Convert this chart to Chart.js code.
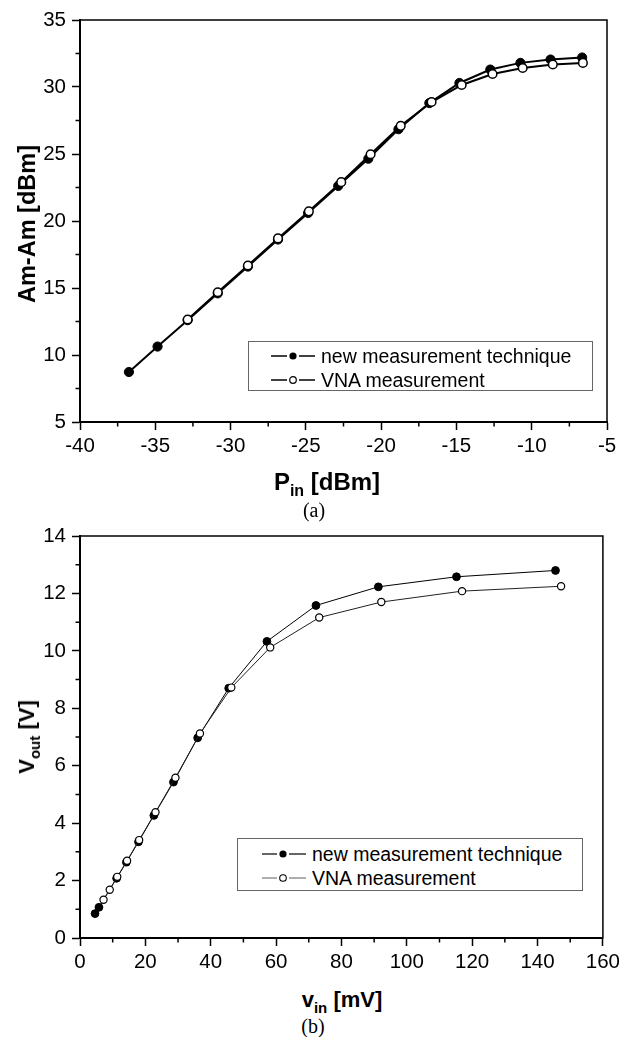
<!DOCTYPE html>
<html>
<head>
<meta charset="utf-8">
<script src="https://cdn.jsdelivr.net/npm/chart.js@4.4.0/dist/chart.umd.min.js"></script>
<style>
    body { margin: 0; background: #fff; }
    #page { position: relative; width: 624px; height: 1037px; background: #fff; font-family: "Liberation Sans", Arial, sans-serif; color: #000; }
    .plot { position: absolute; left: 0; width: 624px; height: 470px; }
    .title { position: absolute; font-weight: bold; font-size: 22px; line-height: 22px; white-space: nowrap; }
    .title sub { font-size: 15px; vertical-align: -6px; line-height: 0; }
    .ytitle { transform: translate(-50%, -50%) rotate(-90deg); }
    .xtitle { transform: translateX(-50%); }
    .caption { position: absolute; font-family: "Liberation Serif", "Times New Roman", serif; font-size: 20px; line-height: 20px; transform: translateX(-50%); }
    .legend { position: absolute; border: 1.5px solid #666; background: #fff; box-sizing: border-box; }
    .legend .row { position: absolute; left: 0; height: 24px; display: flex; align-items: center; font-size: 19.5px; white-space: nowrap; }
    .legend svg { margin-left: 22px; margin-right: 6px; }
</style>
</head>
<body>
<div id="page">
    <div class="plot" style="top:0"><canvas id="chart-a"></canvas></div>
    <div class="plot" style="top:516px"><canvas id="chart-b"></canvas></div>

    <!-- (a) texts -->
    <div class="title ytitle" style="left:27px; top:224px; font-size:23.5px">Am-Am [dBm]</div>
    <div class="title xtitle" style="left:327px; top:470px; font-size:24px; line-height:24px">P<sub style="font-size:16px">in</sub> [dBm]</div>
    <div class="caption" style="left:314px; top:500px">(a)</div>
    <div class="legend" style="left:248px; top:341px; width:345px; height:50px">
        <div class="row" style="top:2px"><svg width="44" height="10"><line x1="0" y1="5" x2="16" y2="5" stroke="#000" stroke-width="1.5"/><line x1="28" y1="5" x2="44" y2="5" stroke="#000" stroke-width="1.5"/><circle cx="22" cy="5" r="3.6" fill="#000"/></svg>new measurement technique</div>
        <div class="row" style="top:26px"><svg width="44" height="10"><line x1="0" y1="5" x2="16" y2="5" stroke="#000" stroke-width="1.5"/><line x1="28" y1="5" x2="44" y2="5" stroke="#000" stroke-width="1.5"/><circle cx="22" cy="5" r="3.3" fill="#fff" stroke="#000" stroke-width="1.2"/></svg>VNA measurement</div>
    </div>

    <!-- (b) texts -->
    <div class="title ytitle" style="left:27px; top:737px">V<sub>out</sub> [V]</div>
    <div class="title xtitle" style="left:342px; top:989px">v<sub>in</sub> [mV]</div>
    <div class="caption" style="left:313px; top:1016px">(b)</div>
    <div class="legend" style="left:237px; top:838px; width:346px; height:53px">
        <div class="row" style="top:3px"><svg width="44" height="10" style="margin-left:24px"><line x1="0" y1="5" x2="15" y2="5" stroke="#000" stroke-width="1.2"/><line x1="27" y1="5" x2="44" y2="5" stroke="#000" stroke-width="1.2"/><circle cx="21" cy="5" r="3.6" fill="#000"/></svg>new measurement technique</div>
        <div class="row" style="top:27px"><svg width="44" height="10" style="margin-left:24px"><line x1="0" y1="5" x2="15" y2="5" stroke="#777" stroke-width="1.2"/><line x1="27" y1="5" x2="44" y2="5" stroke="#777" stroke-width="1.2"/><circle cx="21" cy="5" r="3.3" fill="#fff" stroke="#000" stroke-width="1.1"/></svg>VNA measurement</div>
    </div>
</div>

<script>
// --- (a) Am-Am vs input power ---
const pinNew = [-36.75, -34.85, -32.85, -30.85, -28.85, -26.85, -24.85, -22.85, -20.85, -18.85, -16.8, -14.8, -12.75, -10.75, -8.75, -6.65];
const amNew = [8.73, 10.63, 12.6, 14.6, 16.6, 18.62, 20.6, 22.62, 24.65, 26.85, 28.8, 30.3, 31.3, 31.8, 32.05, 32.2];
const pinVna = [-32.85, -30.85, -28.85, -26.85, -24.8, -22.65, -20.7, -18.7, -16.65, -14.65, -12.6, -10.6, -8.6, -6.6];
const amVna = [12.65, 14.68, 16.68, 18.7, 20.72, 22.9, 24.98, 27.1, 28.88, 30.15, 30.97, 31.42, 31.68, 31.8];

// --- (b) output voltage vs input voltage ---
const vinNew = [4.6, 5.8, 11.2, 14.2, 17.9, 22.6, 28.6, 36.0, 45.5, 57.2, 72.2, 91.3, 115.2, 145.5];
const voutNew = [0.85, 1.07, 2.08, 2.64, 3.35, 4.27, 5.43, 6.97, 8.7, 10.33, 11.58, 12.23, 12.58, 12.8];
const vinVna = [7.2, 9.1, 11.4, 14.4, 18.1, 23.1, 29.2, 36.7, 46.3, 58.2, 73.2, 92.2, 116.9, 147.2];
const voutVna = [1.33, 1.68, 2.13, 2.69, 3.41, 4.38, 5.58, 7.12, 8.72, 10.12, 11.16, 11.7, 12.08, 12.25];

const seriesLabels = ['new measurement technique', 'VNA measurement'];

Chart.defaults.font.family = '"Liberation Sans", Arial, sans-serif';
Chart.defaults.color = '#000';

const toPoints = (xs, ys) => xs.map((x, i) => ({ x: x, y: ys[i] }));

// frame on top/right + short minor ticks halfway between the major ones
const framePlugin = {
    id: 'frame',
    afterDraw(chart) {
        const { ctx, chartArea: { left, right, top, bottom }, scales: { x, y } } = chart;
        ctx.save();
        ctx.strokeStyle = '#000';
        ctx.lineWidth = 1.5;
        ctx.strokeRect(left, top, right - left, bottom - top);
        ctx.beginPath();
        for (let i = 0; i < x.ticks.length - 1; i++) {
            const px = x.getPixelForValue((x.ticks[i].value + x.ticks[i + 1].value) / 2);
            ctx.moveTo(px, bottom);
            ctx.lineTo(px, bottom + 4.5);
        }
        for (let i = 0; i < y.ticks.length - 1; i++) {
            const py = y.getPixelForValue((y.ticks[i].value + y.ticks[i + 1].value) / 2);
            ctx.moveTo(left, py);
            ctx.lineTo(left - 4.5, py);
        }
        ctx.stroke();
        ctx.restore();
    }
};

function axis(min, max, step, isX) {
    return {
        type: 'linear',
        min: min,
        max: max,
        border: { display: true, color: '#000', width: 2 },
        grid: { drawOnChartArea: false, drawTicks: true, tickLength: 8, tickWidth: 1.5, tickColor: '#000' },
        ticks: { stepSize: step, font: { size: 20.5 }, color: '#000', padding: isX ? 4 : 6, maxRotation: 0 },
        afterFit: (scale) => {
            if (isX) scale.height = 48; else scale.width = 80;
        }
    };
}

function renderChart(canvasId, newXs, newYs, vnaXs, vnaYs, xRange, yRange, style) {
    const ctx = document.getElementById(canvasId).getContext('2d');
    return new Chart(ctx, {
        type: 'scatter',
        data: {
            datasets: [{
                label: seriesLabels[1],
                data: toPoints(vnaXs, vnaYs),
                showLine: true,
                borderColor: style.vnaLine,
                borderWidth: style.lineWidth,
                pointRadius: style.radius - 0.3,
                pointBorderWidth: style.pointBorder,
                pointBackgroundColor: '#fff',
                pointBorderColor: '#000',
                order: 0
            }, {
                label: seriesLabels[0],
                data: toPoints(newXs, newYs),
                showLine: true,
                borderColor: '#000',
                borderWidth: style.lineWidth,
                pointRadius: style.radius,
                pointBorderWidth: 1,
                pointBackgroundColor: '#000',
                pointBorderColor: '#000',
                order: 1
            }]
        },
        options: {
            responsive: true,
            maintainAspectRatio: false,
            animation: false,
            layout: { padding: { top: 20, right: 17, left: 0, bottom: 0 } },
            scales: {
                x: axis(xRange[0], xRange[1], xRange[2], true),
                y: axis(yRange[0], yRange[1], yRange[2], false)
            },
            plugins: {
                legend: { display: false },
                tooltip: { enabled: false }
            }
        },
        plugins: [framePlugin]
    });
}

renderChart('chart-a', pinNew, amNew, pinVna, amVna, [-40, -5, 5], [5, 35, 5],
    { lineWidth: 2, radius: 4.6, pointBorder: 1.5, vnaLine: '#000' });
renderChart('chart-b', vinNew, voutNew, vinVna, voutVna, [0, 160, 20], [0, 14, 2],
    { lineWidth: 1, radius: 3.9, pointBorder: 1.2, vnaLine: '#222' });
</script>
</body>
</html>
